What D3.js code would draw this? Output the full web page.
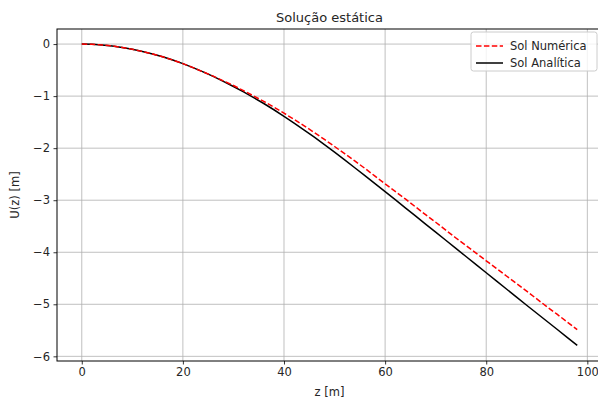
<!DOCTYPE html>
<html><head><meta charset="utf-8">
<script src="https://cdn.jsdelivr.net/npm/d3@7"></script>
<style>
body{margin:0;background:#fff}
svg{display:block}
text{font-family:"DejaVu Sans",sans-serif;fill:#262626}
</style>
</head><body><svg id="c" width="598" height="403"></svg>
<script>
const titleText = "Solução estática";
const xLabel = "z [m]";
const yLabel = "U(z) [m]";
const seriesNames = ["Sol Numérica", "Sol Analítica"];
const zValues = [0,2,4,6,8,10,12,14,16,18,20,22,24,26,28,30,32,34,36,38,40,42,44,46,48,
  50,52,54,56,58,60,62,64,66,68,70,72,74,76,78,80,82,84,86,88,90,92,94,96,98];
const numericValues = [0,-0.004,-0.016,-0.036,-0.064,-0.100,-0.142,-0.190,-0.244,-0.306,
  -0.376,-0.452,-0.534,-0.617,-0.706,-0.796,-0.895,-0.998,-1.102,-1.212,
  -1.328,-1.448,-1.572,-1.700,-1.832,-1.968,-2.106,-2.246,-2.388,-2.537,
  -2.686,-2.830,-2.976,-3.127,-3.278,-3.424,-3.575,-3.726,-3.872,-4.018,
  -4.164,-4.310,-4.456,-4.602,-4.748,-4.897,-5.046,-5.190,-5.339,-5.488];
const analyticValues = [0,-0.004,-0.016,-0.036,-0.064,-0.100,-0.142,-0.190,-0.244,-0.306,
  -0.376,-0.452,-0.534,-0.622,-0.716,-0.816,-0.920,-1.028,-1.142,-1.262,
  -1.388,-1.518,-1.652,-1.790,-1.932,-2.078,-2.226,-2.376,-2.528,-2.682,
  -2.836,-2.990,-3.146,-3.302,-3.458,-3.614,-3.770,-3.926,-4.082,-4.238,
  -4.394,-4.550,-4.706,-4.862,-5.018,-5.172,-5.326,-5.480,-5.634,-5.788];
const xTicks = [0,20,40,60,80,100];
const yTicks = [0,-1,-2,-3,-4,-5,-6];

const svg = d3.select("#c");
const m = {left:57, right:602, top:29, bottom:361};
const x = d3.scaleLinear().domain([-4.9, 102.9]).range([m.left, m.right]);
const y = d3.scaleLinear().domain([-6.0895, 0.2895]).range([m.bottom, m.top]);
const fmt = v => v < 0 ? "\u2212" + Math.abs(v) : String(v);

// grid
const g = svg.append("g");
g.selectAll(".gx").data(xTicks).join("line")
  .attr("x1", d=>x(d)).attr("x2", d=>x(d)).attr("y1", m.top).attr("y2", m.bottom)
  .attr("stroke", "#b0b0b0").attr("stroke-width", 0.8);
g.selectAll(".gy").data(yTicks).join("line")
  .attr("x1", m.left).attr("x2", m.right).attr("y1", d=>y(d)).attr("y2", d=>y(d))
  .attr("stroke", "#b0b0b0").attr("stroke-width", 0.8);

// axes
const xAxis = d3.axisBottom(x).tickValues(xTicks).tickSize(3.5).tickPadding(3.5).tickFormat(fmt);
const yAxis = d3.axisLeft(y).tickValues(yTicks).tickSize(3.5).tickPadding(3.5).tickFormat(fmt);
const ax = svg.append("g").attr("transform", `translate(0,${m.bottom})`).call(xAxis);
const ay = svg.append("g").attr("transform", `translate(${m.left},0)`).call(yAxis);
[ax, ay].forEach(a => {
  a.select(".domain").remove();
  a.selectAll(".tick line").attr("stroke", "#000").attr("stroke-width", 0.8);
  a.selectAll(".tick text").attr("font-family", "DejaVu Sans").attr("font-size", 11.5).attr("fill", "#262626");
});

// lines
const line = vals => d3.line().x((d,i)=>x(zValues[i])).y(d=>y(d))(vals);
svg.append("path").attr("d", line(analyticValues)).attr("fill","none")
  .attr("stroke","#000").attr("stroke-width",1.5).attr("stroke-linejoin","round");
svg.append("path").attr("d", line(numericValues)).attr("fill","none")
  .attr("stroke","#ff0000").attr("stroke-width",1.5).attr("stroke-dasharray","5.5,2.4");

// spines
svg.append("rect").attr("x", m.left).attr("y", m.top).attr("width", m.right-m.left).attr("height", m.bottom-m.top)
  .attr("fill","none").attr("stroke","#000").attr("stroke-width",1);

// title & labels
svg.append("text").attr("x", (m.left+m.right)/2).attr("y", 22).attr("text-anchor","middle")
  .attr("font-size", 13).text(titleText);
svg.append("text").attr("x", (m.left+m.right)/2).attr("y", 396).attr("text-anchor","middle")
  .attr("font-size", 11.5).text(xLabel);
svg.append("text").attr("transform", `translate(19,${(m.top+m.bottom)/2}) rotate(-90)`).attr("text-anchor","middle")
  .attr("font-size", 11.5).text(yLabel);

// legend
const lg = svg.append("g");
lg.append("rect").attr("x", 471).attr("y", 32).attr("width", 126).attr("height", 39).attr("rx", 2.5)
  .attr("fill", "#fff").attr("fill-opacity", 0.8).attr("stroke", "#cccccc").attr("stroke-width", 1);
const styles = [{c:"#ff0000", dash:"5.5,2.4"}, {c:"#000", dash:null}];
seriesNames.forEach((name, i) => {
  const yy = 46 + i*17;
  lg.append("line").attr("x1", 476).attr("x2", 503).attr("y1", yy).attr("y2", yy)
    .attr("stroke", styles[i].c).attr("stroke-width", 1.5).attr("stroke-dasharray", styles[i].dash);
  lg.append("text").attr("x", 510).attr("y", yy + 4).attr("font-size", 11.5).text(name);
});
</script>
</body></html>
